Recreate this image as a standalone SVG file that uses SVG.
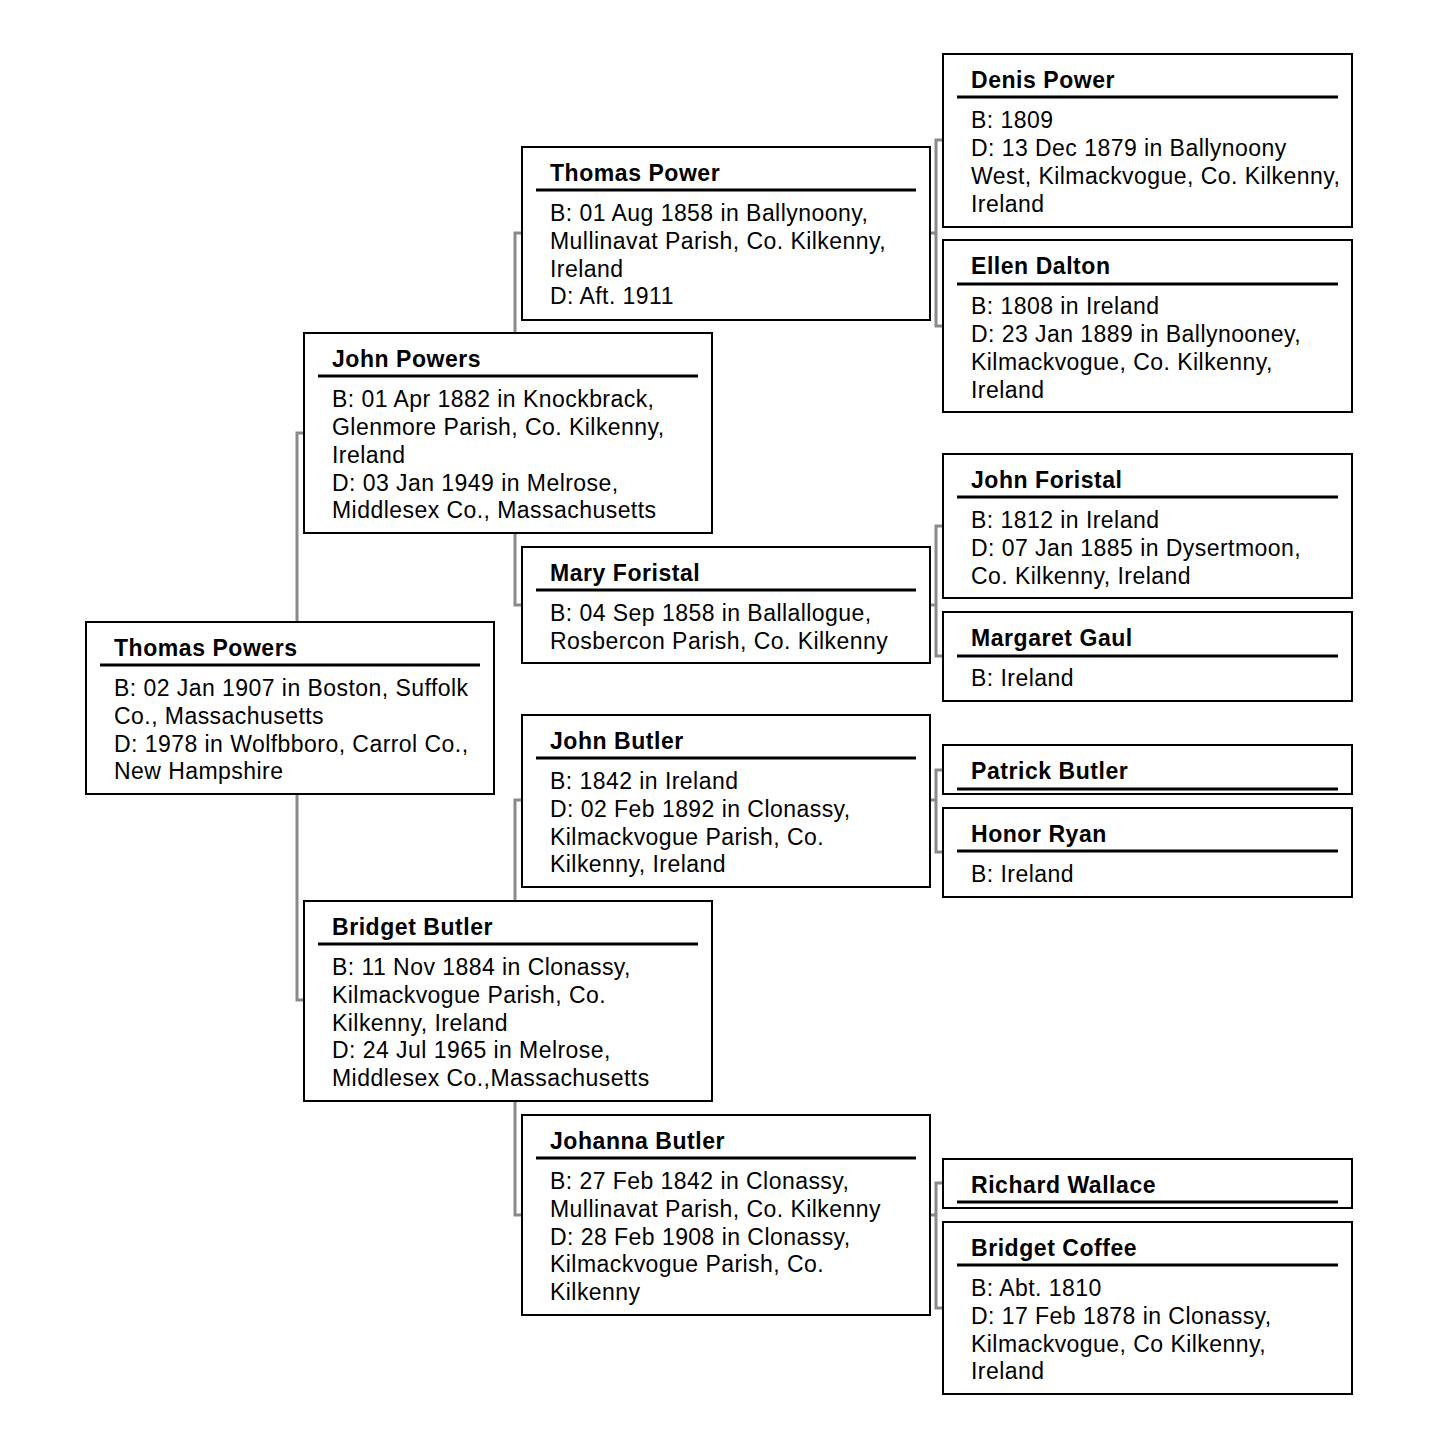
<svg xmlns="http://www.w3.org/2000/svg" width="1448" height="1454" viewBox="0 0 1448 1454">
<style>
.box{fill:#fff;stroke:#000;stroke-width:2}
.ul{stroke:#000;stroke-width:3}
.c{fill:none;stroke:#8a8a8a;stroke-width:3}
text{font-family:"Liberation Sans",Arial,sans-serif;font-size:23px;letter-spacing:0.45px;fill:#000}
.n{font-weight:bold;letter-spacing:0.55px}
</style>
<rect width="1448" height="1454" fill="#fff"/>
<g id="connectors">
<path class="c" d="M304,433 H297 V1000 H304"/>
<path class="c" d="M522,233 H515 V605 H522"/>
<path class="c" d="M522,800 H515 V1215 H522"/>
<path class="c" d="M943,140 H936 V326 H943 M930,233 H936"/>
<path class="c" d="M943,526 H936 V656 H943 M930,605 H936"/>
<path class="c" d="M943,770 H936 V852 H943 M930,800 H936"/>
<path class="c" d="M943,1183 H936 V1308 H943 M930,1215 H936"/>
</g>
<g id="thomas-powers">
<rect class="box" x="86" y="622" width="408" height="172"/>
<text class="n" x="114" y="656">Thomas Powers</text>
<line class="ul" x1="100" y1="665" x2="480" y2="665"/>
<text x="114" y="696">B: 02 Jan 1907 in Boston, Suffolk</text>
<text x="114" y="724">Co., Massachusetts</text>
<text x="114" y="752">D: 1978 in Wolfbboro, Carrol Co.,</text>
<text x="114" y="779">New Hampshire</text>
</g>
<g id="john-powers">
<rect class="box" x="304" y="333" width="408" height="200"/>
<text class="n" x="332" y="367">John Powers</text>
<line class="ul" x1="318" y1="376" x2="698" y2="376"/>
<text x="332" y="407">B: 01 Apr 1882 in Knockbrack,</text>
<text x="332" y="435">Glenmore Parish, Co. Kilkenny,</text>
<text x="332" y="463">Ireland</text>
<text x="332" y="491">D: 03 Jan 1949 in Melrose,</text>
<text x="332" y="518">Middlesex Co., Massachusetts</text>
</g>
<g id="bridget-butler">
<rect class="box" x="304" y="901" width="408" height="200"/>
<text class="n" x="332" y="935">Bridget Butler</text>
<line class="ul" x1="318" y1="944" x2="698" y2="944"/>
<text x="332" y="975">B: 11 Nov 1884 in Clonassy,</text>
<text x="332" y="1003">Kilmackvogue Parish, Co.</text>
<text x="332" y="1031">Kilkenny, Ireland</text>
<text x="332" y="1058">D: 24 Jul 1965 in Melrose,</text>
<text x="332" y="1086">Middlesex Co.,Massachusetts</text>
</g>
<g id="thomas-power">
<rect class="box" x="522" y="147" width="408" height="173"/>
<text class="n" x="550" y="181">Thomas Power</text>
<line class="ul" x1="536" y1="190" x2="916" y2="190"/>
<text x="550" y="221">B: 01 Aug 1858 in Ballynoony,</text>
<text x="550" y="249">Mullinavat Parish, Co. Kilkenny,</text>
<text x="550" y="277">Ireland</text>
<text x="550" y="304">D: Aft. 1911</text>
</g>
<g id="mary-foristal">
<rect class="box" x="522" y="547" width="408" height="116"/>
<text class="n" x="550" y="581">Mary Foristal</text>
<line class="ul" x1="536" y1="590" x2="916" y2="590"/>
<text x="550" y="621">B: 04 Sep 1858 in Ballallogue,</text>
<text x="550" y="649">Rosbercon Parish, Co. Kilkenny</text>
</g>
<g id="john-butler">
<rect class="box" x="522" y="715" width="408" height="172"/>
<text class="n" x="550" y="749">John Butler</text>
<line class="ul" x1="536" y1="758" x2="916" y2="758"/>
<text x="550" y="789">B: 1842 in Ireland</text>
<text x="550" y="817">D: 02 Feb 1892 in Clonassy,</text>
<text x="550" y="845">Kilmackvogue Parish, Co.</text>
<text x="550" y="872">Kilkenny, Ireland</text>
</g>
<g id="johanna-butler">
<rect class="box" x="522" y="1115" width="408" height="200"/>
<text class="n" x="550" y="1149">Johanna Butler</text>
<line class="ul" x1="536" y1="1158" x2="916" y2="1158"/>
<text x="550" y="1189">B: 27 Feb 1842 in Clonassy,</text>
<text x="550" y="1217">Mullinavat Parish, Co. Kilkenny</text>
<text x="550" y="1245">D: 28 Feb 1908 in Clonassy,</text>
<text x="550" y="1272">Kilmackvogue Parish, Co.</text>
<text x="550" y="1300">Kilkenny</text>
</g>
<g id="denis-power">
<rect class="box" x="943" y="54" width="409" height="173"/>
<text class="n" x="971" y="88">Denis Power</text>
<line class="ul" x1="957" y1="97" x2="1338" y2="97"/>
<text x="971" y="128">B: 1809</text>
<text x="971" y="156">D: 13 Dec 1879 in Ballynoony</text>
<text x="971" y="184">West, Kilmackvogue, Co. Kilkenny,</text>
<text x="971" y="212">Ireland</text>
</g>
<g id="ellen-dalton">
<rect class="box" x="943" y="240" width="409" height="172"/>
<text class="n" x="971" y="274">Ellen Dalton</text>
<line class="ul" x1="957" y1="284" x2="1338" y2="284"/>
<text x="971" y="314">B: 1808 in Ireland</text>
<text x="971" y="342">D: 23 Jan 1889 in Ballynooney,</text>
<text x="971" y="370">Kilmackvogue, Co. Kilkenny,</text>
<text x="971" y="398">Ireland</text>
</g>
<g id="john-foristal">
<rect class="box" x="943" y="454" width="409" height="144"/>
<text class="n" x="971" y="488">John Foristal</text>
<line class="ul" x1="957" y1="497" x2="1338" y2="497"/>
<text x="971" y="528">B: 1812 in Ireland</text>
<text x="971" y="556">D: 07 Jan 1885 in Dysertmoon,</text>
<text x="971" y="584">Co. Kilkenny, Ireland</text>
</g>
<g id="margaret-gaul">
<rect class="box" x="943" y="612" width="409" height="89"/>
<text class="n" x="971" y="646">Margaret Gaul</text>
<line class="ul" x1="957" y1="656" x2="1338" y2="656"/>
<text x="971" y="686">B: Ireland</text>
</g>
<g id="patrick-butler">
<rect class="box" x="943" y="745" width="409" height="49"/>
<text class="n" x="971" y="779">Patrick Butler</text>
<line class="ul" x1="957" y1="789" x2="1338" y2="789"/>
</g>
<g id="honor-ryan">
<rect class="box" x="943" y="808" width="409" height="89"/>
<text class="n" x="971" y="842">Honor Ryan</text>
<line class="ul" x1="957" y1="851" x2="1338" y2="851"/>
<text x="971" y="882">B: Ireland</text>
</g>
<g id="richard-wallace">
<rect class="box" x="943" y="1159" width="409" height="49"/>
<text class="n" x="971" y="1193">Richard Wallace</text>
<line class="ul" x1="957" y1="1202" x2="1338" y2="1202"/>
</g>
<g id="bridget-coffee">
<rect class="box" x="943" y="1222" width="409" height="172"/>
<text class="n" x="971" y="1256">Bridget Coffee</text>
<line class="ul" x1="957" y1="1265" x2="1338" y2="1265"/>
<text x="971" y="1296">B: Abt. 1810</text>
<text x="971" y="1324">D: 17 Feb 1878 in Clonassy,</text>
<text x="971" y="1352">Kilmackvogue, Co Kilkenny,</text>
<text x="971" y="1379">Ireland</text>
</g>
</svg>
